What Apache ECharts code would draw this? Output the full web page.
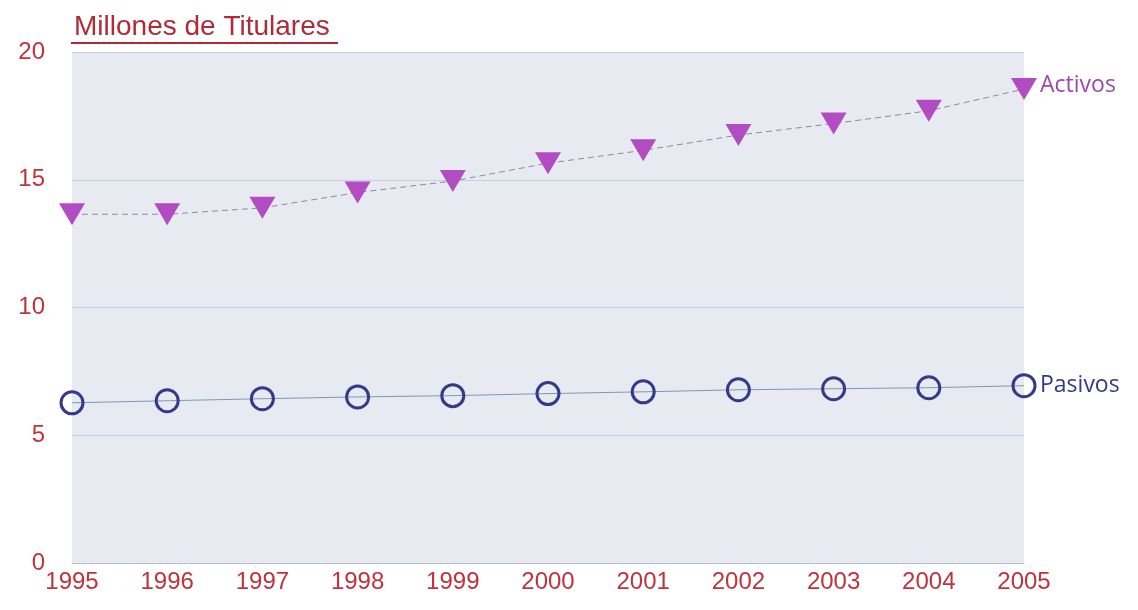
<!DOCTYPE html>
<html>
<head>
<meta charset="utf-8">
<script src="https://cdn.jsdelivr.net/npm/echarts@6/dist/echarts.min.js"></script>
<style>
html, body { margin: 0; padding: 0; background: #fff; }
#chart { width: 1138px; height: 610px; }
</style>
</head>
<body>
<div id="chart"></div>
<script>
// values (millions)
const years = ["1995", "1996", "1997", "1998", "1999", "2000", "2001", "2002", "2003", "2004", "2005"];
const activos = [13.65, 13.65, 13.9, 14.5, 14.95, 15.65, 16.15, 16.75, 17.2, 17.7, 18.55];
const pasivos = [6.27, 6.35, 6.43, 6.5, 6.55, 6.63, 6.7, 6.78, 6.82, 6.86, 6.94];

const red = "#c0333c";

let chart = echarts.init(document.getElementById("chart"));
chart.setOption({
    animation: false,
    title: {
        text: "Millones de Titulares",
        left: 69,
        top: 8,
        textStyle: {
            color: "#b02a38",
            fontFamily: "Liberation Sans",
            fontWeight: "normal",
            fontSize: 28,
        },
    },
    graphic: [
        {
            // underline of the title
            type: "line",
            shape: { x1: 71, y1: 43, x2: 338, y2: 43 },
            style: { stroke: "#b02a38", lineWidth: 2 },
        },
    ],
    grid: {
        show: true,
        left: 72,
        right: 114,
        top: 52,
        bottom: 47,
        backgroundColor: "#e7eaf1",
        borderWidth: 0,
    },
    xAxis: {
        type: "category",
        data: years,
        boundaryGap: false,
        axisLine: { show: true, lineStyle: { color: "#b9c0cf", width: 1 } },
        axisTick: { show: false },
        axisLabel: {
            color: red,
            fontFamily: "Liberation Sans",
            fontSize: 24,
            margin: 7,
        },
    },
    yAxis: {
        type: "value",
        min: 0,
        max: 20,
        interval: 5,
        axisLine: { show: false },
        axisTick: { show: false },
        axisLabel: {
            color: red,
            fontFamily: "Liberation Sans",
            fontSize: 24,
            margin: 27,
        },
        splitLine: { show: true, lineStyle: { color: "#c6cee0", width: 1 } },
    },
    series: [
        {
            name: "Activos",
            type: "line",
            data: activos,
            symbol: "triangle",
            symbolRotate: 180,
            symbolSize: [26, 22],
            itemStyle: { color: "#b24cc2" },
            lineStyle: { color: "#8e8a9c", width: 1, type: [6, 4] },
            endLabel: {
                show: true,
                formatter: "{a}",
                color: "#9a4aa8",
                fontFamily: "Open Sans",
                fontSize: 23,
                distance: 16,
                offset: [0, -4],
            },
        },
        {
            name: "Pasivos",
            type: "line",
            data: pasivos,
            symbol: "circle",
            symbolSize: 22,
            itemStyle: { color: "rgba(0,0,0,0)", borderColor: "#35398a", borderWidth: 3 },
            lineStyle: { color: "#7d9ab8", width: 1 },
            endLabel: {
                show: true,
                formatter: "{a}",
                color: "#35398a",
                fontFamily: "Open Sans",
                fontSize: 23,
                distance: 16,
            },
        },
    ],
});
</script>
</body>
</html>
